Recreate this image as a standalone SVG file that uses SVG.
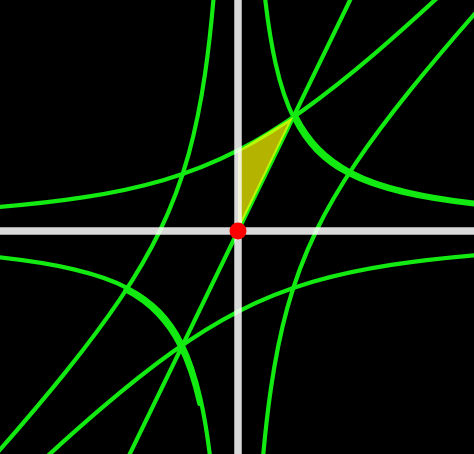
<svg xmlns="http://www.w3.org/2000/svg" width="474" height="454" viewBox="0 0 474 454">
<style>
.bg{fill:#000}
.curves{fill:none;stroke:#12ea12;stroke-width:4.2;stroke-linecap:round}
.tri{fill:#ffff00;fill-opacity:0.7;stroke:none}
.ax{stroke:#ffffff;stroke-opacity:0.85;stroke-width:7.5;fill:none}
.origin{fill:#ff0000}
</style>
<defs>
<path id="hypA" vector-effect="non-scaling-stroke" d="M0.32,3.125 C0.37333,2.60415 0.42667,2.31477 0.48,2.0833 C0.56,1.7361 0.64,1.5432 0.72,1.3889 C0.81333,1.20886 0.90667,1.09333 1,1 C1.13333,0.86667 1.26667,0.78231 1.4,0.71429 C1.63333,0.59524 1.86667,0.5291 2.1,0.47619 C2.46667,0.39304 2.83333,0.34831 3.2,0.3125"/>
<path id="hypC" vector-effect="non-scaling-stroke" d="M-3.2914,0.28 C-2.6495,0.32667 -2.27217,0.37333 -1.96095,0.42 C-1.49413,0.49 -1.20367,0.56 -0.9573,0.63 C-0.52323,0.75333 -0.24667,0.87667 0,1 C0.33333,1.16667 0.59259,1.33333 0.83333,1.5 C1.17037,1.73333 1.46391,1.96667 1.74545,2.2 C2.18787,2.56667 2.59663,2.93333 2.99697,3.3"/>
<path id="thickA" vector-effect="non-scaling-stroke" d="M0.72,1.3889 C0.81333,1.20886 0.90667,1.09333 1,1 C1.13333,0.86667 1.26667,0.78231 1.4,0.71429 C1.63333,0.59524 1.86667,0.5291 2.1,0.47619 C2.46667,0.39304 2.83333,0.34831 3.2,0.3125"/>
<path id="thickB" vector-effect="non-scaling-stroke" d="M0.48,2.0833 C0.56,1.7361 0.64,1.5432 0.72,1.3889 C0.81333,1.20886 0.90667,1.09333 1,1 C1.13333,0.86667 1.26667,0.78231 1.4,0.71429"/>
</defs>
<rect class="bg" x="0" y="0" width="474" height="454"/>
<g id="curves" class="curves" transform="matrix(78.2 0 0 -80.55 238 231)">
<use href="#hypA"/>
<use href="#hypA" transform="scale(-1,-1)"/>
<use href="#thickA" transform="scale(1.03,1.03)"/>
<use href="#thickB" transform="scale(-1.03,-1.03)"/>
<use href="#hypC"/>
<use href="#hypC" transform="scale(-1,-1)"/>
<use href="#hypC" transform="matrix(0 -1 -1 0 0 0)"/>
<use href="#hypC" transform="matrix(0 1 1 0 0 0)"/>
<path vector-effect="non-scaling-stroke" d="M-1.6,-3.2 L1.6,3.2"/>
</g>
<g id="triangle" transform="matrix(78.2 0 0 -80.55 238 231)">
<polygon class="tri" points="0,0 0.70711,1.41421 0,1"/>
</g>
<g id="axes" class="ax">
<line x1="238" y1="0" x2="238" y2="454"/>
<line x1="0" y1="231" x2="474" y2="231"/>
</g>
<g id="origin">
<circle class="origin" cx="238" cy="231" r="8.5"/>
</g>
</svg>
